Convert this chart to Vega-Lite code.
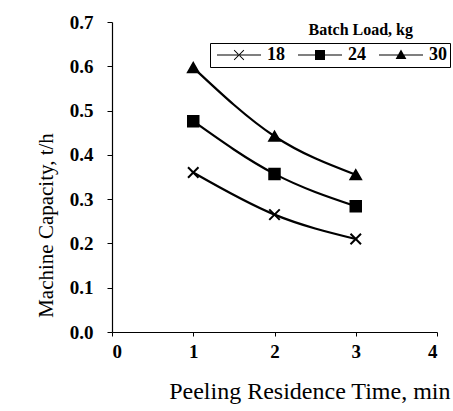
{
  "$schema": "https://vega.github.io/schema/vega-lite/v6.json",
  "width": 325,
  "height": 310,
  "autosize": "none",
  "padding": {"left": 112, "top": 22, "right": 16, "bottom": 79},
  "background": "white",
  "title": {
    "text": "Batch Load, kg",
    "anchor": "end",
    "frame": "group",
    "orient": "top",
    "offset": -25,
    "dx": -24,
    "font": "Liberation Serif",
    "fontSize": 16,
    "fontWeight": "bold",
    "color": "black"
  },
  "config": {
    "font": "Liberation Serif",
    "view": {"stroke": null},
    "axis": {
      "grid": false,
      "domainColor": "black",
      "tickColor": "black",
      "labelColor": "black",
      "titleColor": "black",
      "labelFont": "Liberation Serif",
      "titleFont": "Liberation Serif",
      "labelFontSize": 19,
      "labelFontWeight": "bold",
      "titleFontWeight": "normal",
      "domainWidth": 1.2,
      "tickWidth": 1
    }
  },
  "data": {
    "values": [
      {"t": 1, "cap": 0.36, "load": "18"},
      {"t": 2, "cap": 0.265, "load": "18"},
      {"t": 3, "cap": 0.21, "load": "18"},
      {"t": 1, "cap": 0.476, "load": "24"},
      {"t": 2, "cap": 0.357, "load": "24"},
      {"t": 3, "cap": 0.284, "load": "24"},
      {"t": 1, "cap": 0.597, "load": "30"},
      {"t": 2, "cap": 0.442, "load": "30"},
      {"t": 3, "cap": 0.355, "load": "30"}
    ]
  },
  "encoding": {
    "x": {
      "field": "t", "type": "quantitative",
      "scale": {"domain": [0, 4], "nice": false},
      "axis": {"values": [0, 1, 2, 3, 4], "format": "d", "tickSize": 4, "labelPadding": 6, "title": "Peeling Residence Time, min", "titleFontSize": 24, "titlePadding": 18, "titleAnchor": "end", "titleAlign": "right", "titleX": 338}
    },
    "y": {
      "field": "cap", "type": "quantitative",
      "scale": {"domain": [0, 0.7], "nice": false},
      "axis": {"values": [0, 0.1, 0.2, 0.3, 0.4, 0.5, 0.6, 0.7], "format": ".1f", "tickSize": 5, "labelPadding": 14, "title": "Machine Capacity,  t/h", "titleFontSize": 21, "titlePadding": 13, "titleY": 203}
    }
  },
  "layer": [
    {
      "mark": {"type": "line", "interpolate": "monotone", "color": "black", "strokeWidth": 2.2},
      "encoding": {"detail": {"field": "load"}}
    },
    {
      "mark": {"type": "point", "filled": true, "color": "black", "stroke": "black", "strokeWidth": 2, "size": 110, "opacity": 1},
      "encoding": {
        "shape": {
          "field": "load", "type": "nominal",
          "scale": {"domain": ["18", "24", "30"], "range": ["M-1,-1L1,1M-1,1L1,-1", "square", "triangle-up"]},
          "legend": null
        }
      }
    },
    {
      "transform": [{"filter": "false"}],
      "mark": {"type": "point", "filled": true, "color": "black"},
      "encoding": {
        "shape": {
          "field": "load", "type": "nominal",
          "scale": {"domain": ["18", "24", "30"], "range": [
            "M-5.5,-0.15H5.5V0.15H-5.5ZM-1.3,-1.15L1.15,1.3L1.3,1.15L-1.15,-1.3ZM-1.3,1.15L1.15,-1.3L1.3,-1.15L-1.15,1.3Z",
            "M-5.5,-0.15H5.5V0.15H-5.5ZM-1.25,-1.25H1.25V1.25H-1.25Z",
            "M-5.5,-0.15H5.5V0.15H-5.5ZM0,-1.4L1.35,1.0H-1.35Z"
          ]},
          "legend": {
            "title": null,
            "orient": "none",
            "legendX": 98,
            "legendY": 21,
            "direction": "horizontal",
            "columns": 3,
            "labelFont": "Liberation Serif",
            "labelFontSize": 18,
            "labelFontWeight": "bold",
            "labelColor": "black",
            "symbolSize": 64,
            "symbolOffset": 17,
            "labelOffset": 19,
            "columnPadding": 9,
            "symbolFillColor": "black",
            "symbolStrokeColor": "black",
            "symbolStrokeWidth": 0,
            "symbolOpacity": 1,
            "strokeColor": "black",
            "padding": 3
          }
        }
      }
    }
  ],
  "resolve": {"scale": {"shape": "independent"}}
}
